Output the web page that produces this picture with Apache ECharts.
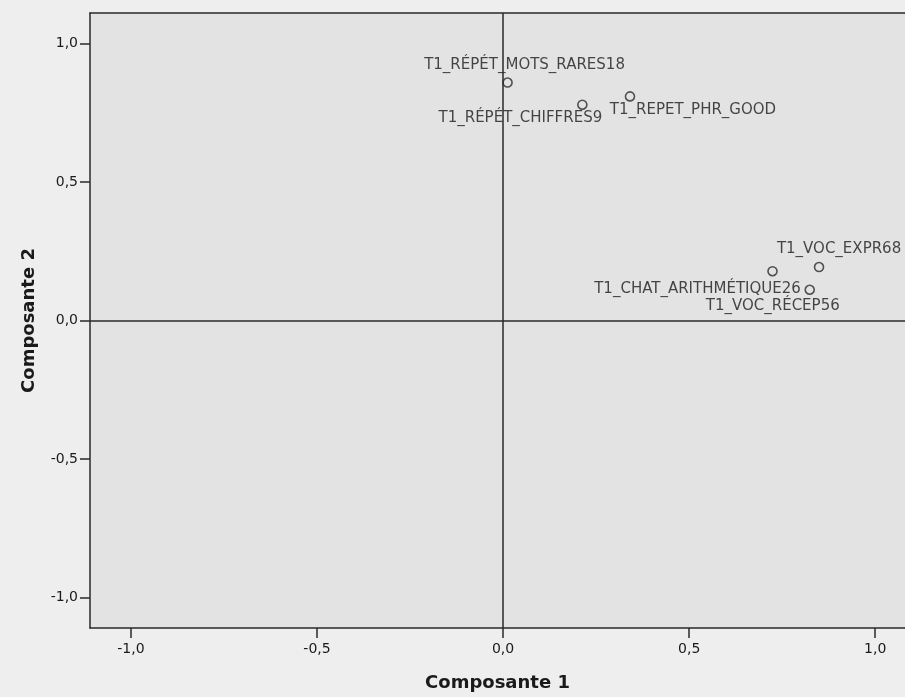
<!DOCTYPE html>
<html>
<head>
<meta charset="utf-8">
<script src="https://cdn.jsdelivr.net/npm/echarts@6/dist/echarts.min.js"></script>
<style>
html,body{margin:0;padding:0;background:#eeeeee;}
#chart{width:905px;height:697px;}
</style>
</head>
<body>
<div id="chart"></div>
<script>
// ---- data ----
var variableNames = ["T1_RÉPÉT_MOTS_RARES18", "T1_RÉPÉT_CHIFFRES9", "T1_REPET_PHR_GOOD", "T1_VOC_EXPR68", "T1_CHAT_ARITHMÉTIQUE26", "T1_VOC_RÉCEP56"];
var composante1 = [0.012, 0.213, 0.341, 0.849, 0.724, 0.824];
var composante2 = [0.859, 0.779, 0.809, 0.193, 0.178, 0.111];
var tickValues = [-1.0, -0.5, 0.0, 0.5, 1.0];
var xTitle = "Composante 1";
var yTitle = "Composante 2";

// ---- label placement (styling, px offsets of label centre from its point) ----
var labelOffsets = [[17, -17], [-62, 13], [63, 14], [20, -18], [-75, 18], [-37, 16]];

var points = variableNames.map(function (n, i) {
  return {
    name: n,
    value: [composante1[i], composante2[i]],
    label: { offset: labelOffsets[i] }
  };
});

function fmt(v) { return v.toFixed(1).replace('.', ','); }

var lineCol = '#2a2a2a';
var textCol = '#1a1a1a';

var chart = echarts.init(document.getElementById('chart'), null, { renderer: 'canvas' });
chart.setOption({
  backgroundColor: '#eeeeee',
  animation: false,
  grid: {
    left: 90, top: 13, bottom: 66, right: 0,
    show: true, backgroundColor: '#e3e3e3', borderWidth: 0
  },
  xAxis: [{
    type: 'value', min: -1.11, max: 1.08,
    name: xTitle, nameLocation: 'middle', nameGap: 46,
    nameTextStyle: { fontFamily: 'DejaVu Sans', fontWeight: 'bold', fontSize: 18, color: textCol },
    axisLine: { show: true, onZero: false, lineStyle: { color: lineCol, width: 1.5 } },
    axisTick: { show: true, length: 10, customValues: tickValues, lineStyle: { color: lineCol, width: 1.5 } },
    axisLabel: { customValues: tickValues, formatter: fmt, margin: 14, fontFamily: 'DejaVu Sans', fontSize: 14, color: textCol },
    splitLine: { show: false }
  }, {
    type: 'value', position: 'top', min: -1.11, max: 1.08,
    axisLine: { show: true, onZero: false, lineStyle: { color: lineCol, width: 1.5 } },
    axisTick: { show: false }, axisLabel: { show: false }, splitLine: { show: false }
  }],
  yAxis: {
    type: 'value', min: -1.11, max: 1.11,
    name: yTitle, nameLocation: 'middle', nameGap: 52, nameRotate: 90,
    nameTextStyle: { fontFamily: 'DejaVu Sans', fontWeight: 'bold', fontSize: 18, color: textCol },
    axisLine: { show: true, onZero: false, lineStyle: { color: lineCol, width: 1.5 } },
    axisTick: { show: true, inside: false, length: 10, customValues: tickValues, lineStyle: { color: lineCol, width: 1.5 } },
    axisLabel: { customValues: tickValues, formatter: fmt, margin: 12, fontFamily: 'DejaVu Sans', fontSize: 14, color: textCol },
    splitLine: { show: false }
  },
  series: [{
    type: 'scatter',
    xAxisIndex: 0,
    data: points,
    symbol: 'circle',
    symbolSize: 9,
    itemStyle: { color: 'rgba(0,0,0,0)', borderColor: lineCol, borderWidth: 1.6 },
    label: {
      show: true, position: 'inside',
      formatter: function (p) { return p.name; },
      fontFamily: 'DejaVu Sans', fontSize: 15, color: textCol,
      align: 'center', verticalAlign: 'middle'
    },
    emphasis: { disabled: true },
    markLine: {
      silent: true, symbol: ['none', 'none'], label: { show: false },
      lineStyle: { color: lineCol, width: 1.5, type: 'solid' },
      data: [{ xAxis: 0 }, { yAxis: 0 }]
    }
  }]
});
</script>
</body>
</html>
